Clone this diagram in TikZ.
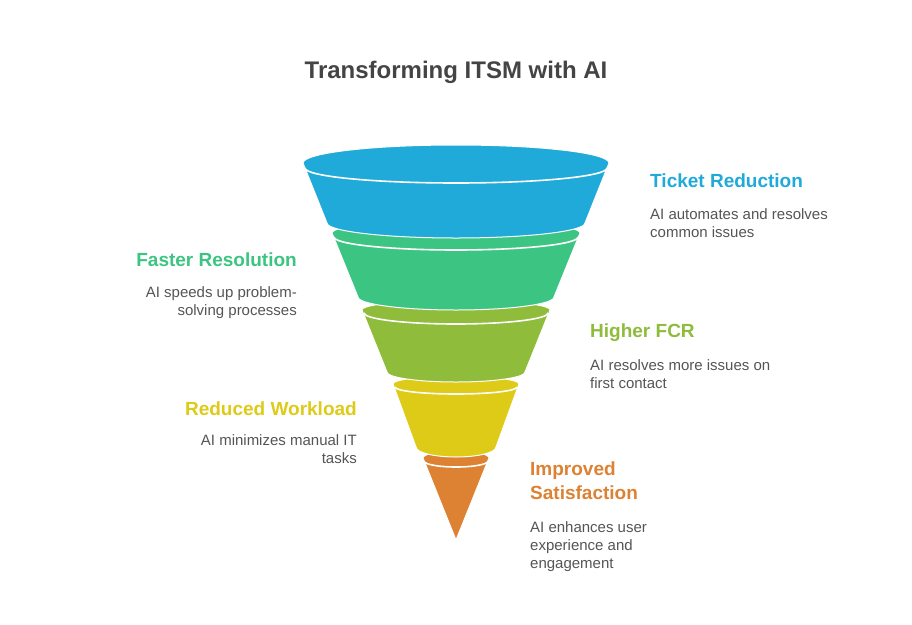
\documentclass[tikz,border=0pt]{standalone}
\usepackage{fontspec}
\setmainfont{Liberation Sans}

\definecolor{ticketblue}{HTML}{1FAAD9}
\definecolor{fastergreen}{HTML}{3CC582}
\definecolor{fcrolive}{HTML}{8FBC3A}
\definecolor{workyellow}{HTML}{DECB18}
\definecolor{satorange}{HTML}{DD8232}
\definecolor{titlegray}{HTML}{444444}
\definecolor{descgray}{HTML}{555555}

\tikzset{
    titletext/.style={font=\bfseries\fontsize{24}{28}\selectfont, text=titlegray, inner sep=0pt},
    heading/.style={font=\bfseries\fontsize{19}{24}\selectfont, inner sep=0pt},
    desc/.style={font=\fontsize{15}{18}\selectfont, text=descgray, inner sep=0pt},
    part/.style={draw=white, line width=1pt},
    seam/.style={draw=white, line width=1.6pt}
}

\begin{document}
\begin{tikzpicture}[x=1pt,y=-1pt]

\fill[white] (0,0) rectangle (912,624);
\useasboundingbox (0,0) rectangle (912,624);

% Title
\node[titletext, anchor=base] (title) at (456,78) {Transforming ITSM with AI};


% Orange tip
\filldraw[part, fill=satorange] (423,458) arc[start angle=180, end angle=360, x radius=33, y radius=7]
    -- (456,540) -- cycle;
\draw[seam] (424,461) arc[start angle=180, end angle=0, x radius=32, y radius=6];

% Yellow band
\filldraw[part, fill=workyellow] (393,384) arc[start angle=180, end angle=360, x radius=63, y radius=8]
    -- (496,447) arc[start angle=0, end angle=180, x radius=40, y radius=10] -- cycle;
\draw[seam] (395,387) arc[start angle=180, end angle=0, x radius=61, y radius=7];

% Olive band
\filldraw[part, fill=fcrolive] (362,310) arc[start angle=180, end angle=360, x radius=94, y radius=10]
    -- (525,372) arc[start angle=0, end angle=180, x radius=69, y radius=10] -- cycle;
\draw[seam] (364,313) arc[start angle=180, end angle=0, x radius=92, y radius=11];

% Green band
\filldraw[part, fill=fastergreen] (332,233) arc[start angle=180, end angle=360, x radius=124, y radius=13]
    -- (554,297) arc[start angle=0, end angle=180, x radius=98, y radius=13] -- cycle;
\draw[seam] (334,237) arc[start angle=180, end angle=0, x radius=122, y radius=13];

% Blue top
\filldraw[part, fill=ticketblue] (303,163) arc[start angle=180, end angle=360, x radius=153, y radius=18]
    -- (585,223) arc[start angle=0, end angle=180, x radius=129, y radius=15] -- cycle;
\draw[seam] (305,168) arc[start angle=180, end angle=0, x radius=151, y radius=15];


% Labels right
\node[heading, text=ticketblue, anchor=base west] (ticket) at (650,187) {Ticket Reduction};
\node[desc, anchor=north west, align=left] (ticketdesc) at (650,208) {AI automates and resolves\\common issues};

\node[heading, text=fcrolive, anchor=base west] (fcr) at (590,337) {Higher FCR};
\node[desc, anchor=north west, align=left] (fcrdesc) at (590,359) {AI resolves more issues on\\first contact};

\node[heading, text=satorange, anchor=north west, align=left] (satisfaction) at (530,462) {Improved\\Satisfaction};
\node[desc, anchor=north west, align=left] (satisfactiondesc) at (530,521) {AI enhances user\\experience and\\engagement};

% Labels left
\node[heading, text=fastergreen, anchor=base east] (faster) at (297,266) {Faster Resolution};
\node[desc, anchor=north east, align=right] (fasterdesc) at (297,286) {AI speeds up problem-\\solving processes};

\node[heading, text=workyellow, anchor=base east] (workload) at (357,415) {Reduced Workload};
\node[desc, anchor=north east, align=right] (workloaddesc) at (357,434) {AI minimizes manual IT\\tasks};

\end{tikzpicture}
\end{document}
